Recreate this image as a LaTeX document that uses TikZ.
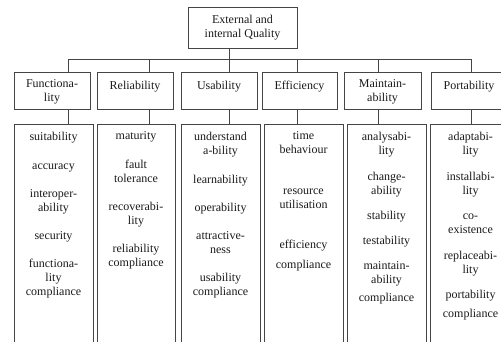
\documentclass[tikz,border=0pt]{standalone}
\usepackage{fontspec}
\setmainfont{Liberation Serif}
\usetikzlibrary{fit}
\definecolor{edge}{HTML}{454545}
\definecolor{ink}{HTML}{1A1A1A}
\tikzset{
  box/.style={draw=edge, line width=1pt, inner sep=0pt, outer sep=0pt},
  % the strut fixes the first line's height, so north sits 9.8pt above its baseline
  lbl/.style={text=ink, font=\fontsize{12}{14}\selectfont, align=center,
              inner sep=0pt, anchor=north, execute at begin node=\strut},
  wire/.style={draw=edge, line width=1pt},
}
\begin{document}
\begin{tikzpicture}[x=1pt, y=-1pt]
\useasboundingbox (0,0) rectangle (501,341);
\clip (0,0) rectangle (501,341);

% root box
\node[box, fit={(188,7) (297,48)}] (top) {};
\node[lbl] (ttop) at (242.5,15.2) {External and\\internal Quality};

% characteristic boxes
\node[box, fit={(14,72) (90,109)}]   (c1) {};
\node[box, fit={(97,72) (173,109)}]  (c2) {};
\node[box, fit={(181,72) (257,109)}] (c3) {};
\node[box, fit={(262,72) (337,109)}] (c4) {};
\node[box, fit={(344,72) (421,109)}] (c5) {};
\node[box, fit={(431,72) (507,109)}] (c6) {};

\node[lbl] (tc1) at (52,79.7)    {Functiona-\\lity};
\node[lbl] (tc2) at (135,79.7)   {Reliability};
\node[lbl] (tc3) at (219,79.7)   {Usability};
\node[lbl] (tc4) at (299.5,79.7) {Efficiency};
\node[lbl] (tc5) at (382.5,79.7) {Maintain-\\ability};
\node[lbl] (tc6) at (469,79.7)   {Portability};

% sub-characteristic columns (open at the bottom)
\node[box, fit={(14,124) (93,360)}]   (l1) {};
\node[box, fit={(97,124) (175,360)}]  (l2) {};
\node[box, fit={(181,124) (260,360)}] (l3) {};
\node[box, fit={(264,124) (343,360)}] (l4) {};
\node[box, fit={(347,124) (426,360)}] (l5) {};
\node[box, fit={(430,124) (511,360)}] (l6) {};

\node[lbl] (tl1) at (53.5,131.7) {suitability\\[15pt]accuracy\\[14pt]interoper-\\ability\\[14pt]security\\[14pt]functiona-\\lity\\compliance};
\node[lbl] (tl2) at (136,131.7) {maturity\\[15pt]fault\\tolerance\\[14pt]recoverabi-\\lity\\[14pt]reliability\\compliance};
\node[lbl] (tl3) at (220.5,131.7) {understand\\a-bility\\[15pt]learnability\\[14pt]operability\\[14pt]attractive-\\ness\\[14pt]usability\\compliance};
\node[lbl] (tl4) at (303.5,131.7) {time\\behaviour\\[27pt]resource\\utilisation\\[26pt]efficiency\\[6pt]compliance};
\node[lbl] (tl5) at (386.5,131.7) {analysabi-\\lity\\[12pt]change-\\ability\\[11pt]stability\\[11pt]testability\\[11pt]maintain-\\ability\\[4pt]compliance};
\node[lbl] (tl6) at (470.5,131.7) {adaptabi-\\lity\\[12pt]installabi-\\lity\\[11pt]co-\\existence\\[12pt]replaceabi-\\lity\\[11pt]portability\\[5pt]compliance};

% connectors: bus and stems
\coordinate (s1) at (68,59);
\coordinate (s2) at (149,59);
\coordinate (s3) at (229,59);
\coordinate (s4) at (297,59);
\coordinate (s5) at (378,59);
\coordinate (s6) at (471,59);
\draw[wire] (s1) -- (s6);
\draw[wire] (top.south -| s3) -- (s3);
\foreach \i in {1,...,6} {
  \draw[wire] (s\i) -- (c\i.north -| s\i);
  \draw[wire] (c\i.south -| s\i) -- (l\i.north -| s\i);
}
\end{tikzpicture}
\end{document}
